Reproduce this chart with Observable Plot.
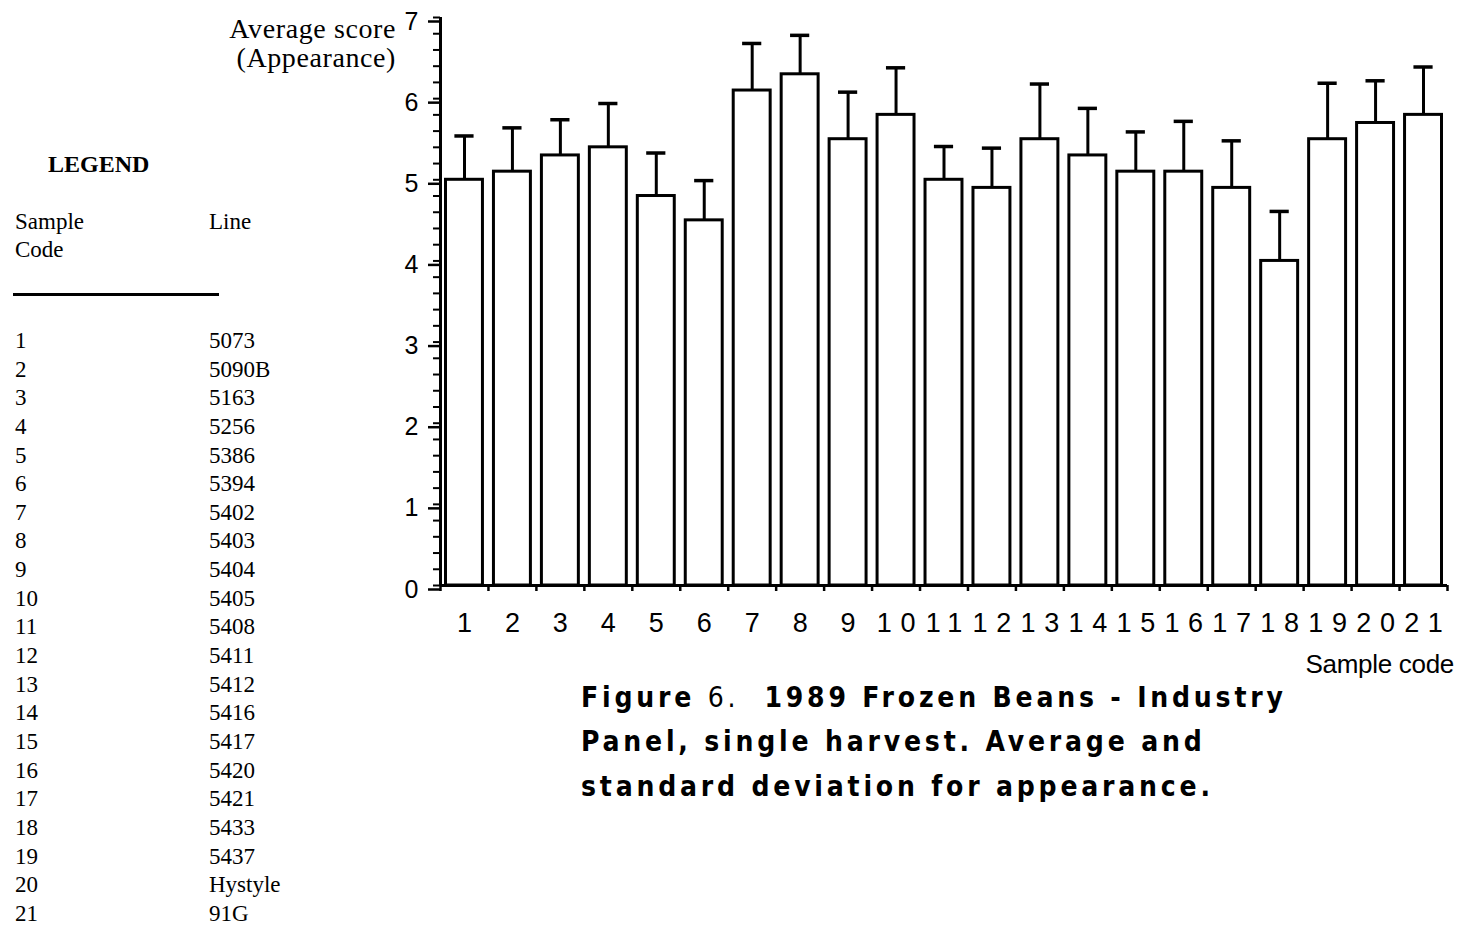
<!DOCTYPE html>
<html>
<head>
<meta charset="utf-8">
<script src="https://cdn.jsdelivr.net/npm/d3@7"></script>
<script src="https://cdn.jsdelivr.net/npm/@observablehq/plot@0.6"></script>
<style>
  html, body { margin: 0; padding: 0; background: #fff; }
  body { width: 1460px; height: 935px; position: relative; overflow: hidden; color: #000; }
  #chart { position: absolute; left: 0; top: 0; }
  .abs { position: absolute; white-space: nowrap; }
  .serif { font-family: "Liberation Serif", "Times New Roman", serif; }
  #ylabel { right: calc(1460px - 396px); top: 15px; font-size: 28px; line-height: 28.5px; text-align: right; letter-spacing: 0.6px; }
  #legendTitle { left: 48px; top: 151px; font-size: 24px; font-weight: bold; }
  #hdrSample { left: 15px; top: 208px; font-size: 23px; line-height: 27.5px; }
  #hdrLine { left: 209px; top: 209px; font-size: 23px; }
  #hrule { left: 13px; top: 293px; width: 206px; height: 3px; background: #000; }
  #legendRows { left: 15px; top: 327px; font-size: 23px; }
  #legendRows .row { height: 28.65px; line-height: 28.65px; position: relative; }
  #legendRows .code { position: absolute; left: 0; }
  #legendRows .line { position: absolute; left: 194px; }
  #xlabel { right: 6px; top: 649px; font-family: "Liberation Sans", Arial, sans-serif; font-size: 26px; letter-spacing: -0.3px; }
  #caption { left: 581px; top: 676px; font-family: "DejaVu Sans Condensed", "DejaVu Sans", sans-serif; font-weight: bold; font-size: 28px; line-height: 44.3px; letter-spacing: 3.8px; }
  #caption .thin { font-weight: normal; }
  #chart svg g[aria-label="x-axis tick label"] text { letter-spacing: 8.7px; }
</style>
</head>
<body>
<div id="chart"></div>
<div id="ylabel" class="abs serif">Average score<br>(Appearance)</div>
<div id="legendTitle" class="abs serif">LEGEND</div>
<div id="hdrSample" class="abs serif">Sample<br>Code</div>
<div id="hdrLine" class="abs serif">Line</div>
<div id="hrule" class="abs"></div>
<div id="legendRows" class="abs serif"></div>
<div id="xlabel" class="abs">Sample code</div>
<div id="caption" class="abs">Figure <span class="thin">6.</span>&nbsp;&nbsp;1989 Frozen Beans - Industry<br>Panel, single harvest. Average and<br>standard deviation for appearance.</div>
<script>
// ---- data ----
const sampleCodes = [1, 2, 3, 4, 5, 6, 7, 8, 9, 10, 11, 12, 13, 14, 15, 16, 17, 18, 19, 20, 21];
const lineNames = ["5073", "5090B", "5163", "5256", "5386", "5394", "5402", "5403", "5404", "5405",
                   "5408", "5411", "5412", "5416", "5417", "5420", "5421", "5433", "5437", "Hystyle", "91G"];
const averageScores = [5.0, 5.1, 5.3, 5.4, 4.8, 4.5, 6.1, 6.3, 5.5, 5.8, 5.0,
                       4.9, 5.5, 5.3, 5.1, 5.1, 4.9, 4.0, 5.5, 5.7, 5.8];
const stdDevs = [0.54, 0.54, 0.44, 0.54, 0.53, 0.49, 0.58, 0.48, 0.58, 0.58, 0.41,
                 0.49, 0.68, 0.58, 0.49, 0.62, 0.58, 0.61, 0.69, 0.52, 0.59];
const yTickValues = [0, 1, 2, 3, 4, 5, 6, 7];
const yDomain = [0, 7];

// ---- build table ----
const data = sampleCodes.map((c, i) => ({
  code: c, mean: averageScores[i], sd: stdDevs[i], top: averageScores[i] + stdDevs[i]
}));
const yMinorTicks = d3.range(0, 7.0001, 0.2);
const xBoundaries = sampleCodes.map(c => c - 0.5).concat([sampleCodes[sampleCodes.length - 1] + 0.5]);

const chart = Plot.plot({
  width: 1460,
  height: 680,
  marginLeft: 440,
  marginRight: 13,
  marginTop: 17,
  marginBottom: 95,
  style: { fontFamily: "Liberation Sans, Arial, sans-serif", background: "transparent", color: "#000", overflow: "visible" },
  x: { domain: [0.5, 21.5] },
  y: { domain: yDomain },
  marks: [
    Plot.rectY(data, { x1: d => d.code - 0.5, x2: d => d.code + 0.5, y1: 0, y2: "mean",
      insetLeft: 5.5, insetRight: 5.5, fill: "white", stroke: "black", strokeWidth: 3 }),
    Plot.ruleX(data, { x: "code", y1: "mean", y2: "top", stroke: "black", strokeWidth: 3 }),
    Plot.ruleY(data, { y: "top", x1: d => d.code - 0.2, x2: d => d.code + 0.2, stroke: "black", strokeWidth: 3.5 }),
    Plot.ruleY([0], { stroke: "black", strokeWidth: 3 }),
    Plot.ruleX([0.5], { stroke: "black", strokeWidth: 3 }),
    Plot.axisY({ ticks: yTickValues, tickSize: 12, tickPadding: 10, strokeWidth: 2.5,
      tickFormat: d => String(d), fontSize: 25, dy: 4, label: null }),
    Plot.axisY({ ticks: yMinorTicks, tickSize: 7, text: null, strokeWidth: 2, label: null }),
    Plot.axisX({ ticks: sampleCodes, tickSize: 0, tickPadding: 27, tickFormat: d => String(d),
      fontSize: 27, dx: 4.35, label: null }),
    Plot.axisX({ ticks: xBoundaries, tickSize: 6, text: null, strokeWidth: 2.5, label: null })
  ]
});
document.getElementById("chart").appendChild(chart);

// ---- legend table ----
const rows = document.getElementById("legendRows");
sampleCodes.forEach((c, i) => {
  const r = document.createElement("div");
  r.className = "row";
  r.innerHTML = `<span class="code">${c}</span><span class="line">${lineNames[i]}</span>`;
  rows.appendChild(r);
});
</script>
</body>
</html>
